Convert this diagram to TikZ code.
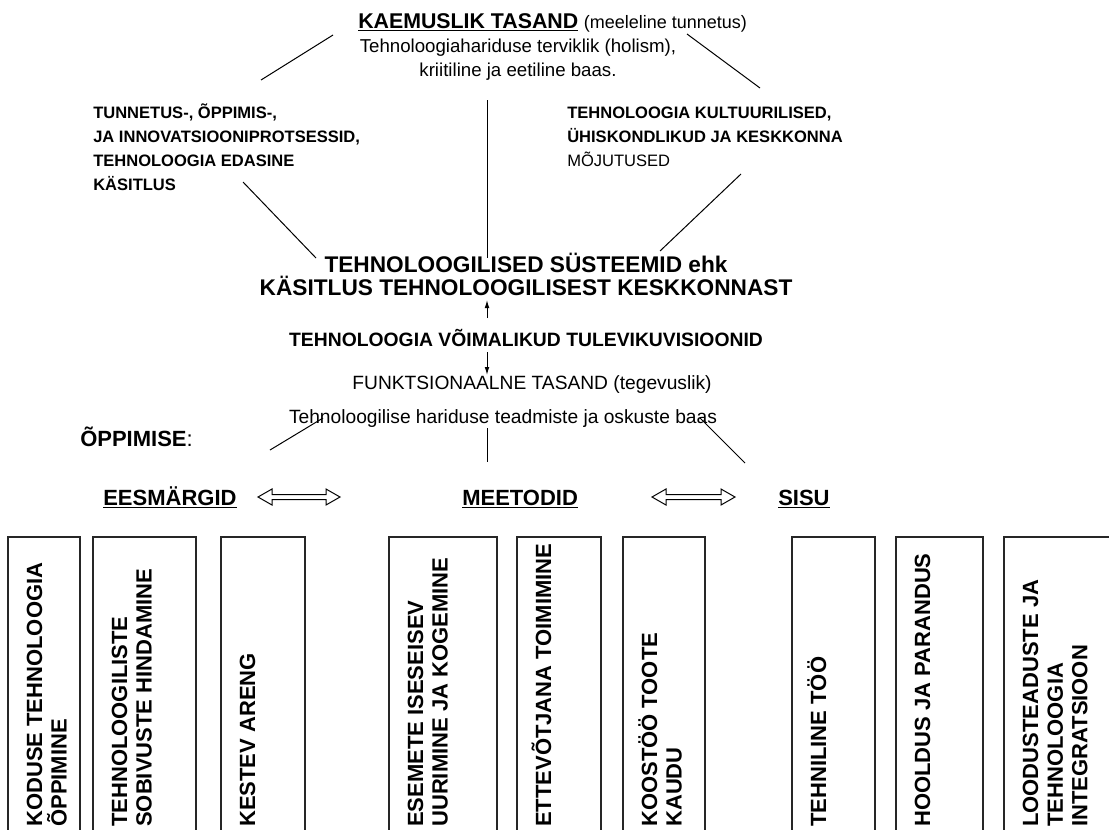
\documentclass[tikz,border=0pt]{standalone}
\usepackage{fontspec}
\setmainfont{Liberation Sans}
\usetikzlibrary{arrows.meta}
\newcommand{\fs}[2]{\fontsize{#1}{#2}\selectfont}

\begin{document}
\begin{tikzpicture}[x=0.75pt, y=-0.75pt,
    lbl/.style={inner sep=0, anchor=base west, align=left, font=\fs{12.4}{18}\bfseries},
    big/.style={inner sep=0, font=\fs{17}{17.25}\bfseries},
    plain/.style={inner sep=0, anchor=base, font=\fs{14.4}{18}},
    boxtext/.style={inner sep=0, rotate=90, anchor=base west, align=left,
        font=\fs{16.5}{18.5}\bfseries},
    boxline/.style={draw=black!85, line width=0.9pt},
    ln/.style={line width=0.75pt},
    arr/.style={line width=0.75pt, -{Latex[length=6pt,width=3.5pt]}}]
    \clip (0,0) rectangle (1109,829);
    \fill[white] (0,0) rectangle (1109,829);
    % top level (multi-line nodes sit on the baseline of their last line)
    \node[inner sep=0, anchor=base west, font=\fs{16}{18}\bfseries] (title) at (358,28)
        {\underline{KAEMUSLIK TASAND}};
    \node[inner sep=0, anchor=base west, font=\fs{13.5}{16}] (titlep) at (title.base east)
        {\ (meeleline tunnetus)};
    \node[plain, align=center, font=\fs{14}{18}] (holism) at (518,76)
        {Tehnoloogiahariduse terviklik (holism),\\kriitiline ja eetiline baas.};
    \node[lbl] (process) at (93,190)
        {TUNNETUS-, ÕPPIMIS-,\\JA INNOVATSIOONIPROTSESSID,\\TEHNOLOOGIA EDASINE\\KÄSITLUS};
    \node[lbl] (culture) at (567,166)
        {TEHNOLOOGIA KULTUURILISED,\\ÜHISKONDLIKUD JA KESKKONNA\\{\mdseries MÕJUTUSED}};
    \node[big, anchor=base, align=center] (systems) at (526,295)
        {TEHNOLOOGILISED SÜSTEEMID ehk\\KÄSITLUS TEHNOLOOGILISEST KESKKONNAST};
    \node[plain, font=\fs{14.5}{18}\bfseries] (visions) at (526,346)
        {TEHNOLOOGIA VÕIMALIKUD TULEVIKUVISIOONID};
    \node[plain] (funkt) at (532,389) {FUNKTSIONAALNE TASAND (tegevuslik)};
    \node[plain] (skills) at (503,423) {Tehnoloogilise hariduse teadmiste ja oskuste baas};
    % connectors
    \coordinate (tl-a) at (261,80);   \coordinate (tl-b) at (333,35);
    \coordinate (tr-a) at (687,34);   \coordinate (tr-b) at (760,88);
    \coordinate (lm-a) at (243,182);  \coordinate (lm-b) at (316,258);
    \coordinate (rm-a) at (741,174);  \coordinate (rm-b) at (660,251);
    \coordinate (vt-a) at (487,100);  \coordinate (vt-b) at (487,258);
    \coordinate (up-a) at (487,318);  \coordinate (up-b) at (487,300);
    \coordinate (dn-a) at (487,352);  \coordinate (dn-b) at (487,375);
    \coordinate (bl-a) at (270,450);  \coordinate (bl-b) at (323,418);
    \coordinate (bv-a) at (487,428);  \coordinate (bv-b) at (487,462);
    \coordinate (br-a) at (700,418);  \coordinate (br-b) at (745,463);
    \draw[ln] (tl-a) -- (tl-b);
    \draw[ln] (tr-a) -- (tr-b);
    \draw[ln] (lm-a) -- (lm-b);
    \draw[ln] (rm-a) -- (rm-b);
    \draw[ln] (vt-a) -- (vt-b);
    \draw[arr] (up-a) -- (up-b);
    \draw[arr] (dn-a) -- (dn-b);
    \draw[ln] (bl-a) -- (bl-b);
    \draw[ln] (bv-a) -- (bv-b);
    \draw[ln] (br-a) -- (br-b);
    % learning
    \node[big, anchor=base west, font=\fs{16.5}{18}\bfseries] (learning) at (80,446) {ÕPPIMISE{\mdseries :}};
    \node[big, anchor=base west, font=\fs{16.5}{18}\bfseries] (goals) at (103,505) {\underline{EESMÄRGID}};
    \node[big, anchor=base west, font=\fs{16.5}{18}\bfseries] (methods) at (462,505) {\underline{MEETODID}};
    \node[big, anchor=base west, font=\fs{16.5}{18}\bfseries] (content) at (778,505) {\underline{SISU}};
    \foreach \xa/\xb in {258/340,652/735}
        \draw[line width=0.75pt] (\xa,497) -- (\xa+14,489) -- (\xa+14,494.5) -- (\xb-14,494.5)
            -- (\xb-14,489) -- (\xb,497) -- (\xb-14,505) -- (\xb-14,499.5)
            -- (\xa+14,499.5) -- (\xa+14,505) -- cycle;
    % columns: name / left / right / lines / text
    \foreach \nm/\xa/\xb/\n/\txt in {b1/8/80/2/{KODUSE TEHNOLOOGIA\\ÕPPIMINE},
        b2/93/196/2/{TEHNOLOOGILISTE\\SOBIVUSTE HINDAMINE}, b3/221/305/1/{KESTEV ARENG},
        b4/389/497/2/{ESEMETE ISESEISEV\\UURIMINE JA KOGEMINE},
        b5/517/601/1/{ETTEVÕTJANA TOIMIMINE}, b6/623/705/2/{KOOSTÖÖ TOOTE\\KAUDU},
        b7/792/875/1/{TEHNILINE TÖÖ}, b8/896/983/1/{HOOLDUS JA PARANDUS},
        b9/1004/1115/3/{LOODUSTEADUSTE JA\\TEHNOLOOGIA\\INTEGRATSIOON}} {
        \draw[boxline] (\xa,537) rectangle (\xb,850);
        \node[boxtext] (\nm) at (\xa+34+24.7*\n-24.7,827) {\txt};
    }
\end{tikzpicture}
\end{document}
